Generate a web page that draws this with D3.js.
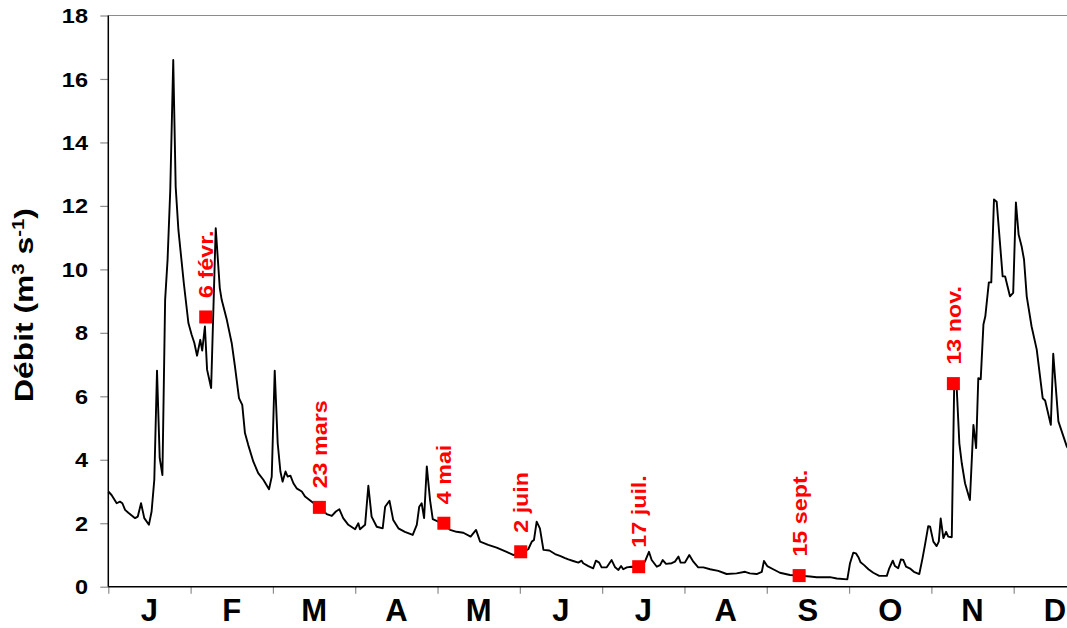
<!DOCTYPE html>
<html><head><meta charset="utf-8">
<script src="https://cdn.jsdelivr.net/npm/d3@7"></script>
<style>body{margin:0;background:#fff}svg{display:block}text{font-family:"Liberation Sans",Arial,sans-serif;font-weight:bold}</style>
</head><body>
<svg id="c" width="1067" height="628"></svg>
<script>
// Day of year (0 = 1 Jan) and discharge (m3/s)
const days = [0,1.2,3.1,4.3,5.2,6.2,7.4,9.9,10.9,12.1,13.3,15.0,16.0,17.0,18.0,19.0,20.0,21.0,21.9,22.9,24.0,24.9,25.9,27.9,29.6,30.8,31.8,32.8,34.0,34.7,35.7,36.5,38.0,39.7,41.2,41.9,43.8,45.6,46.8,48.3,49.5,50.5,51.7,53.6,55.4,57.3,59.4,60.4,61.5,62.6,63.6,64.4,65.5,66.3,67.3,68.4,69.6,71.5,72.7,75.2,77.9,80.7,82.6,84.1,85.4,86.8,88.7,91.2,92.4,93.0,94.9,96.1,97.3,99.2,101.4,102.3,103.9,105.3,107.2,109.6,112.5,114.0,114.9,115.8,116.7,117.7,118.9,119.9,123.8,126.3,128.7,131.2,133.9,135.9,137.4,140.4,143.5,147.2,149.6,152.4,155.2,156.5,157.3,158.3,159.5,160.8,163.0,165.1,166.9,168.8,170.0,171.8,173.7,174.9,175.5,177.4,179.2,180.2,181.4,182.3,184.2,186.0,187.3,188.5,189.5,190.3,191.6,193.3,195.7,198.3,199.8,200.8,202.7,203.9,204.9,206.1,208.2,209.4,210.7,211.5,213.1,214.7,216.2,218.0,219.9,222.4,225.4,228.5,232.2,235.3,237.1,239.6,241.5,242.3,243.5,245.7,248.2,251.9,255.1,259.3,261.8,264.2,266.7,269.2,273.1,274.1,275.3,276.3,277.2,278.0,279.3,280.9,282.7,284.9,287.7,288.6,289.9,290.7,291.9,292.9,293.8,294.8,296.5,297.7,299.7,300.9,301.8,303.0,303.7,304.9,306.1,306.9,307.6,308.6,309.6,310.4,311.7,312.6,313.5,314.5,315.4,316.6,318.4,319.7,320.7,321.5,322.4,323.4,324.1,325.4,326.3,327.3,328.3,330.5,331.4,333.2,334.4,335.4,336.4,337.5,338.4,339.4,341.2,343.1,345.3,346.2,348.3,349.2,351.1,354.2,356.0];
const flow = [3.0,2.89,2.63,2.68,2.63,2.42,2.33,2.16,2.21,2.63,2.16,1.95,2.37,3.37,6.81,4.05,3.52,9.04,10.3,12.5,16.6,12.6,11.25,9.57,8.31,7.94,7.68,7.28,7.78,7.44,8.2,6.84,6.26,11.3,9.41,9.04,8.41,7.68,6.94,5.94,5.73,4.84,4.47,3.94,3.58,3.37,3.07,3.47,6.81,4.52,3.63,3.31,3.63,3.47,3.50,3.26,3.10,3.0,2.84,2.68,2.5,2.29,2.23,2.37,2.44,2.16,1.95,1.81,2.0,1.81,1.95,3.18,2.21,1.89,1.84,2.52,2.71,2.10,1.84,1.73,1.63,1.95,2.52,2.63,2.16,3.79,2.73,2.13,1.98,1.79,1.73,1.70,1.58,1.79,1.42,1.32,1.23,1.10,1.0,1.05,1.18,1.42,1.47,2.05,1.84,1.16,1.14,1.03,0.97,0.9,0.86,0.81,0.76,0.82,0.74,0.65,0.58,0.82,0.76,0.61,0.61,0.84,0.61,0.53,0.65,0.55,0.61,0.63,0.62,0.79,1.10,0.84,0.63,0.68,0.84,0.72,0.74,0.79,0.95,0.76,0.76,1.0,0.79,0.61,0.61,0.55,0.50,0.40,0.42,0.47,0.42,0.40,0.47,0.81,0.65,0.55,0.44,0.37,0.35,0.32,0.30,0.30,0.30,0.26,0.23,0.74,1.07,1.05,0.93,0.77,0.68,0.55,0.44,0.34,0.34,0.58,0.82,0.65,0.58,0.86,0.84,0.63,0.56,0.47,0.40,0.90,1.32,1.91,1.89,1.42,1.28,1.42,2.15,1.53,1.73,1.58,1.56,6.36,6.31,4.52,3.89,3.26,2.73,5.10,4.37,6.57,6.54,8.26,8.52,9.59,9.59,12.2,12.13,9.78,9.78,9.15,9.26,12.11,11.1,10.73,10.31,9.15,8.2,7.47,5.94,5.87,5.10,7.34,5.21,4.42,4.2];

// Sampling dates
const sampleLabels = ["6 févr.","23 mars","4 mai","2 juin","17 juil.","15 sept.","13 nov."];
const sampleDays = [36,78,124,152.4,196,255.3,312.3];
const sampleFlow = [8.5,2.5,2.0,1.1,0.63,0.35,6.4];

const monthLabels = ["J","F","M","A","M","J","J","A","S","O","N","D"];
const yTicks = [0,2,4,6,8,10,12,14,16,18];

const svg = d3.select("#c");
const x = d3.scaleLinear().domain([0,365]).range([108.3,1096]);
const y = d3.scaleLinear().domain([0,18]).range([586.7,15.5]);

// top border
svg.append("line").attr("x1",x(0)).attr("x2",1100).attr("y1",y(18)).attr("y2",y(18))
  .attr("stroke","#8c8c8c").attr("stroke-width",1.2);

// Y axis
const yAxis = d3.axisLeft(y).tickValues(yTicks).tickSize(8).tickFormat("");
const gy = svg.append("g").attr("transform",`translate(${x(0)},0)`).call(yAxis);
gy.select(".domain").remove();
gy.selectAll(".tick line").attr("stroke","#8c8c8c").attr("stroke-width",1.2);
svg.append("g").selectAll("text").data(yTicks).join("text")
  .attr("transform",d=>`translate(88,${y(d)}) scale(1.12,1)`)
  .attr("dy","0.36em").attr("text-anchor","end").attr("font-size",21).attr("fill","#000")
  .text(d3.format("d"));

// X axis (months)
const monthTicks = d3.range(13).map(i => i*365/12);
const xAxis = d3.axisBottom(x).tickValues(monthTicks).tickSize(7).tickFormat("");
const gx = svg.append("g").attr("transform",`translate(0,${y(0)})`).call(xAxis);
gx.select(".domain").remove();
gx.selectAll(".tick line").attr("stroke","#8c8c8c").attr("stroke-width",1.2);
svg.append("g").selectAll("text").data(monthLabels).join("text")
  .attr("x",(d,i)=>x((i+0.5)*365/12)).attr("y",621)
  .attr("text-anchor","middle").attr("font-size",31).attr("fill","#000").text(d=>d);

// axis lines
svg.append("line").attr("x1",x(0)).attr("x2",x(0)).attr("y1",y(18)).attr("y2",y(0)).attr("stroke","#000").attr("stroke-width",1.5);
svg.append("line").attr("x1",x(0)).attr("x2",1100).attr("y1",y(0)).attr("y2",y(0)).attr("stroke","#000").attr("stroke-width",1.5);

// Y title
const yt = svg.append("text").attr("transform","translate(33,305) rotate(-90) scale(1.2,1)")
  .attr("text-anchor","middle").attr("font-size",26.5).attr("fill","#000");
yt.append("tspan").text("Débit (m");
yt.append("tspan").attr("baseline-shift","super").attr("font-size",17).text("3");
yt.append("tspan").text(" s");
yt.append("tspan").attr("baseline-shift","super").attr("font-size",17).text("-1");
yt.append("tspan").text(")");

// hydrograph
const line = d3.line().x((d,i)=>x(days[i])).y((d,i)=>y(flow[i]));
svg.append("path").datum(flow).attr("d",line).attr("fill","none")
  .attr("stroke","#000").attr("stroke-width",1.9).attr("stroke-linejoin","round");

// markers
const ms = 13;
svg.append("g").selectAll("rect").data(sampleDays).join("rect")
  .attr("x",(d)=>x(d)-ms/2).attr("y",(d,i)=>y(sampleFlow[i])-ms/2)
  .attr("width",ms).attr("height",ms).attr("fill","#ff0000");
svg.append("g").selectAll("text").data(sampleLabels).join("text")
  .attr("transform",(d,i)=>`translate(${x(sampleDays[i])+7.5},${y(sampleFlow[i])-19}) rotate(-90) scale(1.11,1)`)
  .attr("font-size",21).attr("fill","#ff0000").text(d=>d);
</script>
</body></html>
